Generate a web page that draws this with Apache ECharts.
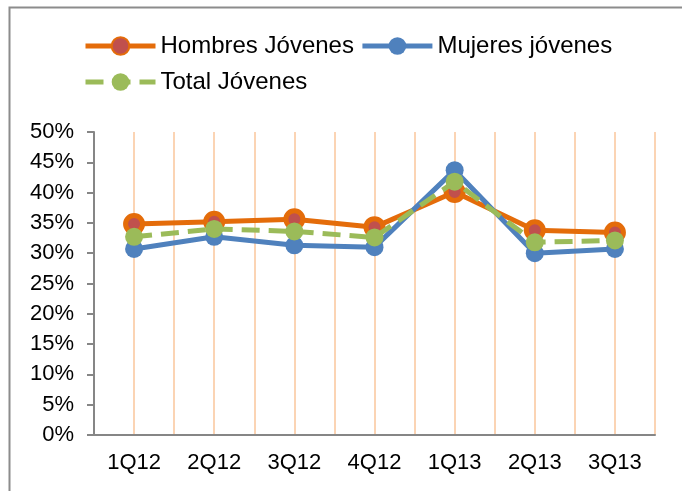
<!DOCTYPE html>
<html>
<head>
<meta charset="utf-8">
<script src="https://cdn.jsdelivr.net/npm/echarts@6/dist/echarts.min.js"></script>
<style>
  html, body { margin: 0; padding: 0; background: #fff; }
  #main { width: 682px; height: 491px; }
</style>
</head>
<body>
<div id="main"></div>
<script>
// Data
const categories = ["1Q12", "2Q12", "3Q12", "4Q12", "1Q13", "2Q13", "3Q13"];
const hombres = [0.348, 0.352, 0.356, 0.343, 0.401, 0.338, 0.334];
const mujeres = [0.307, 0.327, 0.313, 0.310, 0.437, 0.300, 0.307];
const total = [0.327, 0.340, 0.336, 0.326, 0.418, 0.318, 0.321];

let myChart = echarts.init(document.getElementById("main"));

const font = "Liberation Sans, Arial, sans-serif";

let options = {
  animation: false,
  textStyle: { fontFamily: font },
  graphic: [
    {
      type: "rect",
      left: 7,
      top: 5,
      shape: { width: 700, height: 500 },
      style: { fill: "none", stroke: "#8c8c8c", lineWidth: 2 },
    },
  ],
  legend: {
    left: 78,
    top: 26,
    width: 580,
    itemWidth: 70,
    itemHeight: 22,
    itemGap: 6,
    lineStyle: { width: 5 },
    textStyle: { fontSize: 24, color: "#000", fontFamily: font, lineHeight: 30 },
  },
  grid: { left: 94, right: 27, top: 132, bottom: 56 },
  xAxis: [
    {
      type: "category",
      data: categories,
      axisLine: { lineStyle: { color: "#868686", width: 2 } },
      axisTick: { length: 6, lineStyle: { color: "#868686", width: 2 } },
      axisLabel: { fontSize: 22, color: "#000", margin: 17, fontFamily: font },
      splitLine: { show: false },
      z: 3,
    },
    {
      // half-category vertical grid lines
      type: "value",
      min: 0,
      max: 14,
      interval: 1,
      position: "bottom",
      axisLine: { show: false },
      axisTick: { show: false },
      axisLabel: { show: false },
      splitLine: { show: true, lineStyle: { color: "#FBD4B4", width: 2 } },
    },
  ],
  yAxis: {
    type: "value",
    min: 0,
    max: 0.5,
    interval: 0.05,
    axisLine: { show: true, lineStyle: { color: "#868686", width: 2 } },
    axisTick: { show: true, length: 7, lineStyle: { color: "#868686", width: 2 } },
    axisLabel: {
      fontSize: 22,
      color: "#000",
      margin: 20,
      fontFamily: font,
      formatter: (v) => Math.round(v * 100) + "%",
    },
    splitLine: { show: false },
    z: 3,
  },
  series: [
    {
      name: "Hombres Jóvenes",
      type: "line",
      data: hombres,
      symbol: "circle",
      symbolSize: 17,
      lineStyle: { color: "#E46C0A", width: 5 },
      itemStyle: { color: "#C0504D", borderColor: "#E46C0A", borderWidth: 5 },
      z: 4,
    },
    {
      name: "Mujeres jóvenes",
      type: "line",
      data: mujeres,
      symbol: "circle",
      symbolSize: 18,
      lineStyle: { color: "#4F81BD", width: 5 },
      itemStyle: { color: "#4F81BD" },
      z: 5,
    },
    {
      name: "Total Jóvenes",
      type: "line",
      data: total,
      symbol: "circle",
      symbolSize: 18,
      lineStyle: { color: "#9BBB59", width: 5, type: [18, 9] },
      itemStyle: { color: "#9BBB59" },
      z: 6,
    },
  ],
};
myChart.setOption(options);
</script>
</body>
</html>
